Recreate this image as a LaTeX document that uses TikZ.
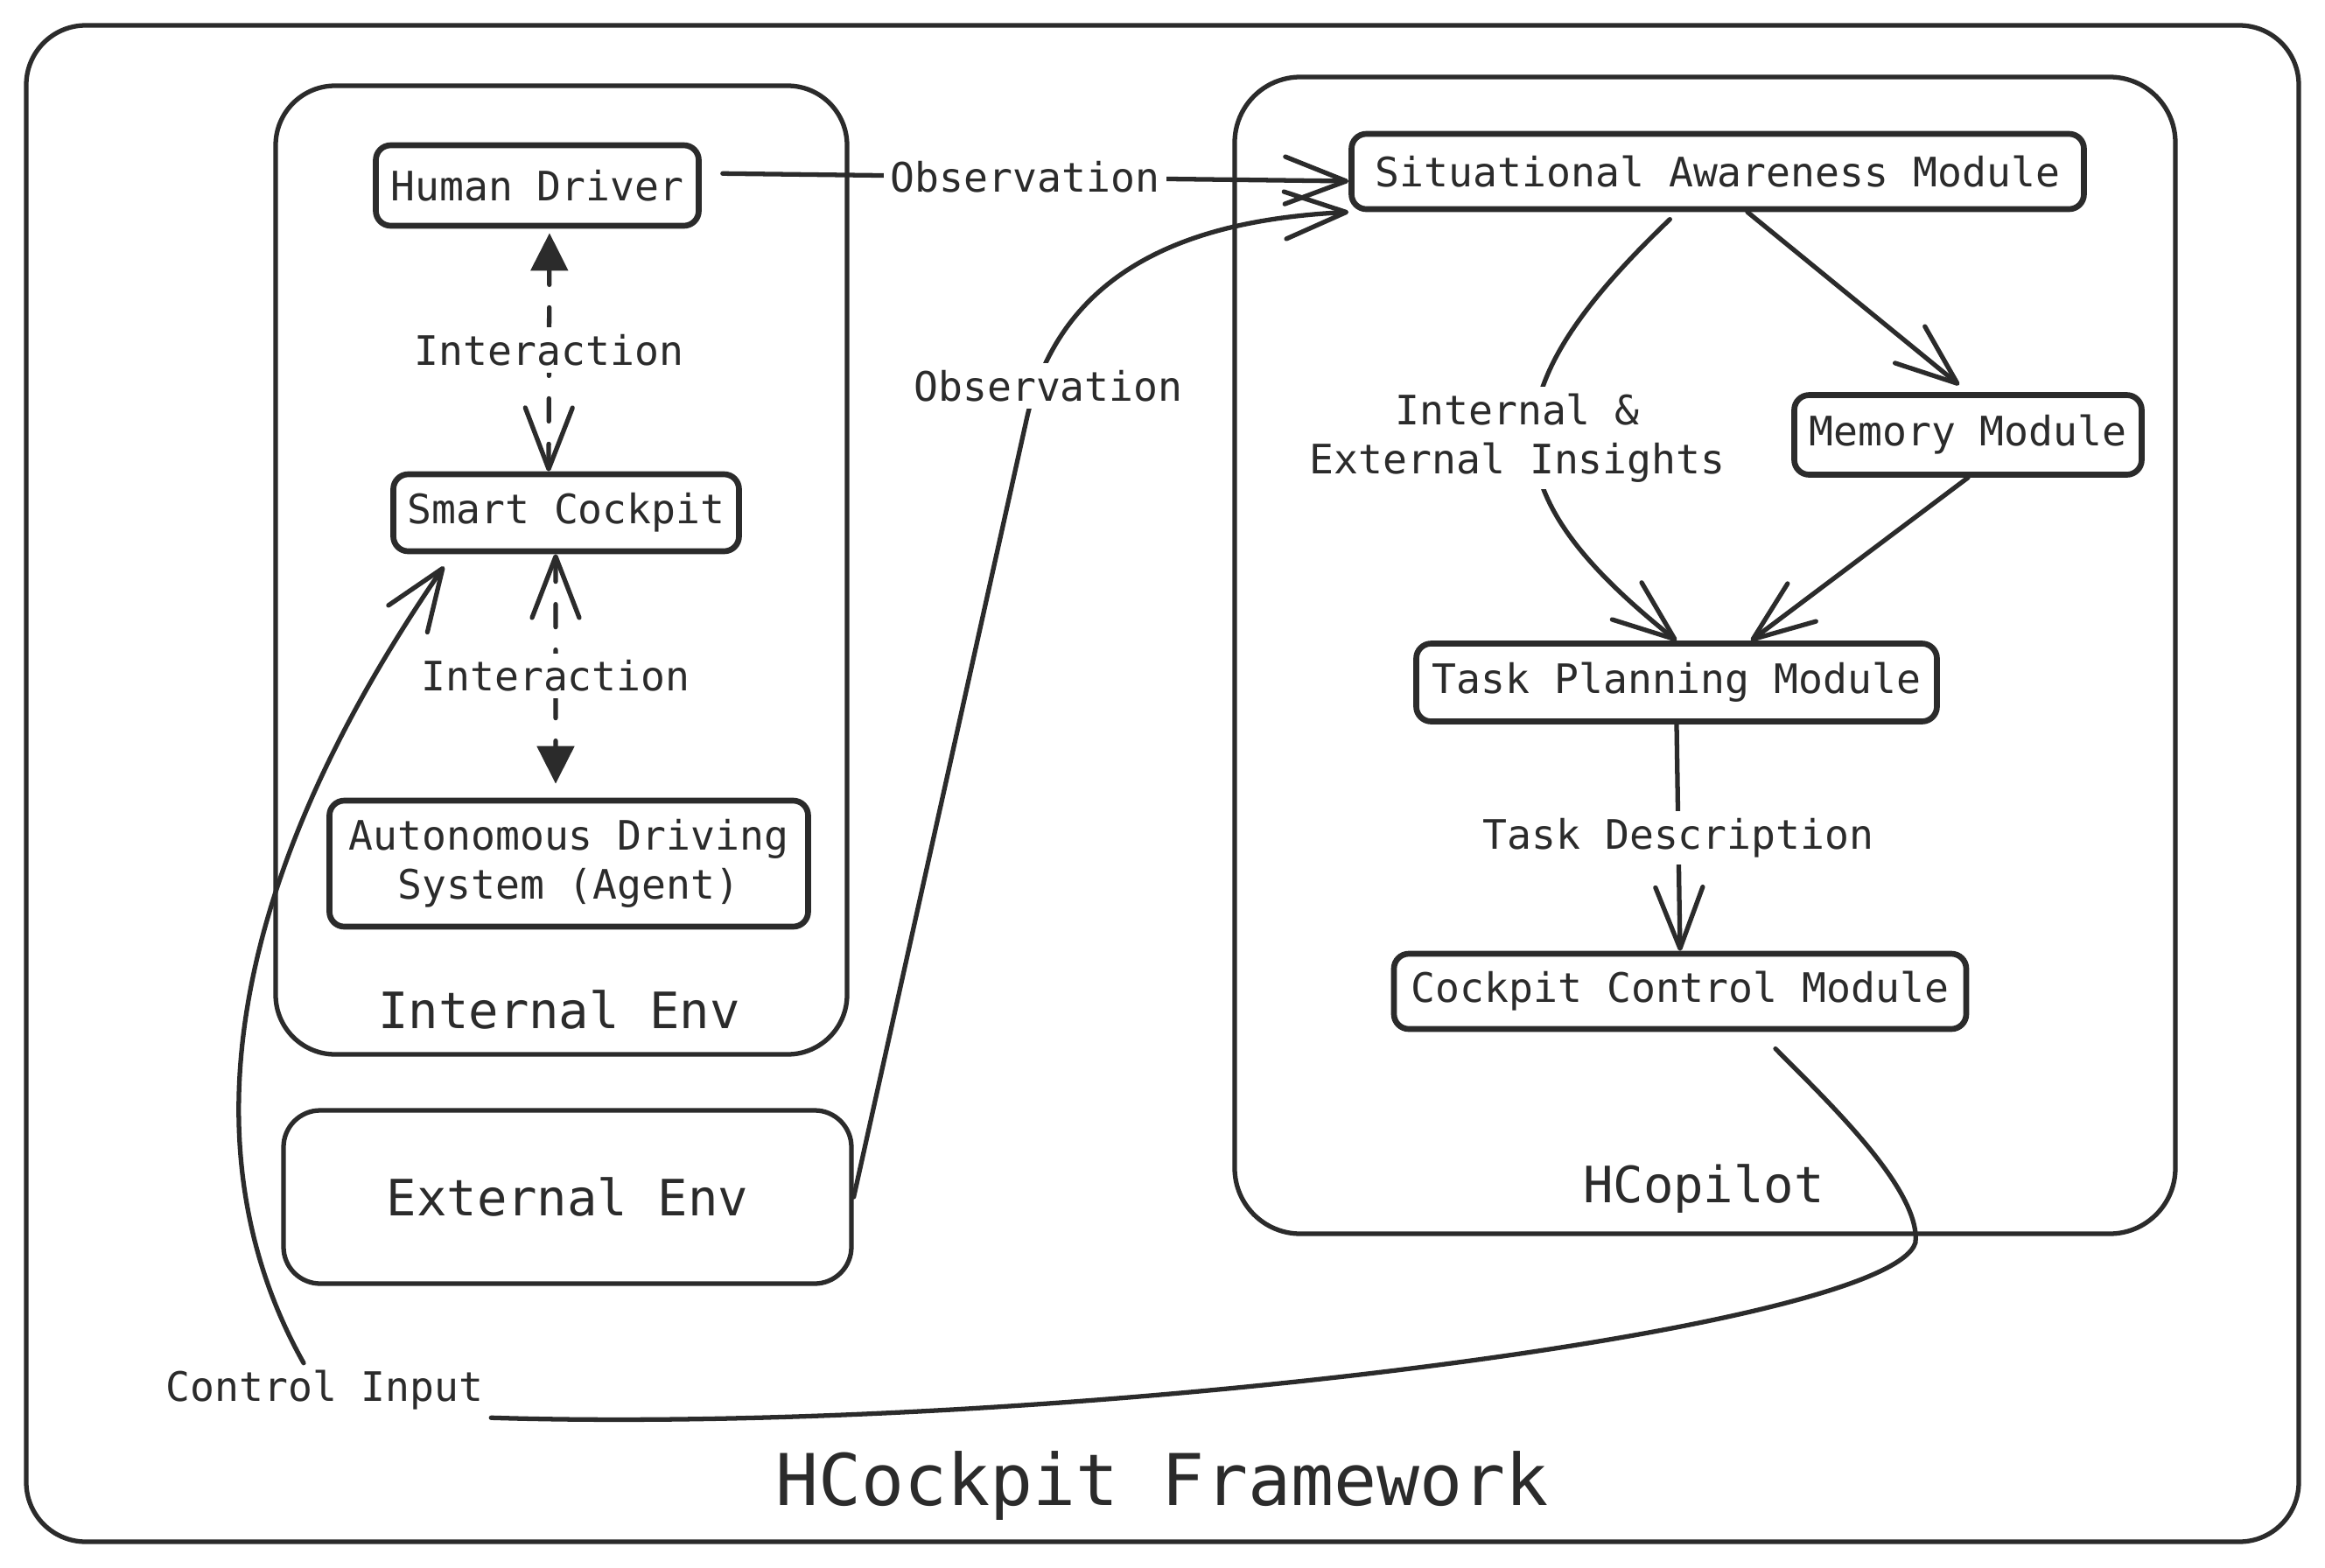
\documentclass[tikz,border=0pt]{standalone}
\usepackage{fontspec}
\setmonofont{DejaVu Sans Mono}
\usepackage{tikz}
\usetikzlibrary{positioning, arrows.meta}
\definecolor{ink}{HTML}{2B2B2B}

\begin{document}
\begin{tikzpicture}[
    box/.style={draw=ink, line width=1.9pt, rounded corners=0.17cm, fill=white, text=ink,
        font=\ttfamily\fontsize{13.2}{16}\selectfont, inner sep=0.1cm, align=center},
    lbl/.style={fill=white, text=ink, font=\ttfamily\fontsize{13.2}{16}\selectfont,
        inner sep=0.08cm, align=center},
    frame/.style={draw=ink, line width=1.5pt},
    envtext/.style={text=ink, font=\ttfamily\fontsize{16.3}{19}\selectfont},
    wire/.style={draw=ink, line width=1.5pt, line cap=round},
    arr/.style={wire, -{Straight Barb[length=7mm, width=5.4mm, round]}},
    dashedarr/.style={wire, dash pattern=on 2.6mm off 2.6mm,
        {Straight Barb[length=7mm, width=5.4mm, round]}-{Triangle[length=4.3mm, width=4.2mm]}}
]
    \fill[white] (0,0) rectangle (26.57,-17.92);

    % frames
    \draw[frame, rounded corners=0.68cm] (0.30,-0.29) rectangle (26.27,-17.62);
    \draw[frame, rounded corners=0.68cm] (3.15,-0.98) rectangle (9.68,-12.05);
    \draw[frame, rounded corners=0.75cm] (14.11,-0.88) rectangle (24.86,-14.10);
    \node[frame, envtext, rounded corners=0.42cm, minimum width=6.49cm, minimum height=1.98cm]
        (ee) at (6.485,-13.68) {External Env};
    \node[envtext] (ienv) at (6.39,-11.54) {Internal Env};
    \node[envtext] (hcop) at (19.47,-13.59) {HCopilot};
    \node[text=ink, font=\ttfamily\fontsize{23.2}{28}\selectfont] (title) at (13.28,-16.98) {HCockpit Framework};

    % internal env
    \node[box, minimum width=3.69cm, minimum height=0.92cm] (hd) at (6.14,-2.12) {Human Driver};
    \node[box, minimum width=3.95cm, minimum height=0.88cm] (sc) at (6.47,-5.86) {Smart Cockpit};
    \node[box, minimum width=5.47cm, minimum height=1.44cm] (ads) at (6.50,-9.87) {Autonomous Driving\\System (Agent)};

    % hcopilot
    \node[box, minimum width=8.37cm, minimum height=0.86cm] (sa) at (19.63,-1.96) {Situational Awareness Module};
    \node[box, minimum width=3.97cm, minimum height=0.91cm] (mem) at (22.49,-4.97) {Memory Module};
    \node[box, minimum width=5.95cm, minimum height=0.89cm] (tp) at (19.16,-7.80) {Task Planning Module};
    \node[box, minimum width=6.54cm, minimum height=0.86cm] (ccm) at (19.20,-11.33) {Cockpit Control Module};

    \node[lbl, fill=none] (ci) at (3.71,-15.89) {Control Input};

    % interactions
    \draw[dashedarr, shorten >=0.5mm] ([xshift=-2mm]sc.north) -- node[lbl] {Interaction} ([xshift=1.4mm]hd.south);
    \draw[dashedarr, shorten >=1.6mm] ([xshift=-1.2mm]sc.south) -- node[lbl] {Interaction} ([xshift=-1.5mm]ads.north);

    % observations
    \draw[arr, shorten <=2.4mm] ([yshift=1.4mm]hd.east) -- node[lbl] {Observation} ([yshift=-1.1mm]sa.west);
    \draw[arr] (ee.east) -- (11.73,-4.8) .. controls (12.15,-2.9) and (13.9,-2.5) .. (sa.south west);
    \node[lbl] (obs) at (11.98,-4.41) {Observation};

    % hcopilot flow
    \draw[arr, shorten >=1.3mm] ([xshift=3.4mm]sa.south) -- (mem.north);
    \draw[arr, shorten <=1.2mm] ([xshift=-4.6mm]sa.south) .. controls (17.0,-4.5) and (17.0,-5.6)
        .. node[lbl, xshift=-2mm] {Internal \&\\External Insights} (tp.north);
    \draw[arr] (mem.south) -- ([xshift=8.5mm]tp.north);
    \draw[arr] (tp.south) -- node[lbl] {Task Description} (ccm.north);

    % control input
    \draw[wire, shorten <=2.7mm] ([xshift=9mm]ccm.south) .. controls (20.9,-12.6) and (21.95,-13.6) .. (21.89,-14.2)
        .. controls (21.6,-15.2) and (12.0,-16.4) .. (ci.south east);
    \draw[arr, shorten >=1.7mm] ([xshift=-2.4mm]ci.north) .. controls (2.3,-13.5) and (2.3,-10.5) .. ([xshift=-1.3cm]sc.south);
\end{tikzpicture}
\end{document}
